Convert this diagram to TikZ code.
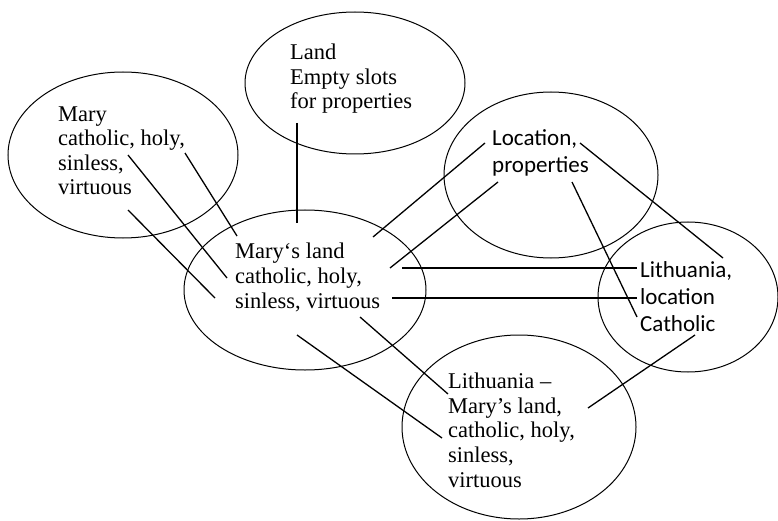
\documentclass[tikz,border=0pt]{standalone}
\usepackage{fontspec}
\setmainfont{Liberation Serif}
\newfontfamily\calfont{Carlito}
\usetikzlibrary{shapes.geometric}
\begin{document}
\begin{tikzpicture}[x=1pt,y=-1pt,
  oval/.style={draw, ellipse, line width=1pt, inner sep=0pt},
  serif/.style={anchor=base west, align=left, inner sep=0pt, font=\fontsize{22.5}{24.6}\selectfont},
  sans/.style={anchor=base west, align=left, inner sep=0pt, font=\calfont\fontsize{23}{27}\selectfont},
  link/.style={line width=1.3pt}]
\useasboundingbox (0,0) rectangle (778,521);
% ellipses
\node[oval, minimum width=230pt, minimum height=166pt] (emary) at (123,155) {};
\node[oval, minimum width=220pt, minimum height=142pt] (eland) at (355,83) {};
\node[oval, minimum width=214pt, minimum height=166pt] (eloc) at (551,175) {};
\node[oval, minimum width=242pt, minimum height=160pt] (emland) at (305,290) {};
\node[oval, minimum width=180pt, minimum height=150pt] (elith) at (688,297) {};
\node[oval, minimum width=234pt, minimum height=184pt] (elml) at (519,427) {};
% texts (base anchor = baseline of the last line)
\node[serif] (tland) at (290,109) {Land\\Empty slots\\for properties};
\node[serif] (tmary) at (58,195) {Mary\\catholic, holy,\\sinless,\\virtuous};
\node[serif] (tmland) at (235,308) {Mary‘s land\\catholic, holy,\\sinless, virtuous};
\node[sans] (tloc) at (492,173) {Location,\\properties};
\node[sans] (tlith) at (640,331) {Lithuania,\\location\\Catholic};
\node[serif] (tlml) at (448,487) {Lithuania –\\Mary’s land,\\catholic, holy,\\sinless,\\virtuous};
% connector end points
\coordinate (c1a) at (128,155); \coordinate (c1b) at (227,278);
\coordinate (c2a) at (185,153); \coordinate (c2b) at (237,236);
\coordinate (c3a) at (128,210); \coordinate (c3b) at (215,298);
\coordinate (c4a) at (297,123); \coordinate (c4b) at (297,223);
\coordinate (c5a) at (485,143); \coordinate (c5b) at (373,237);
\coordinate (c6a) at (498,182); \coordinate (c6b) at (390,268);
\coordinate (c7a) at (572,182); \coordinate (c7b) at (637,317);
\coordinate (c8a) at (580,143); \coordinate (c8b) at (723,258);
\coordinate (c9a) at (402,268); \coordinate (c9b) at (637,268);
\coordinate (c10a) at (392,298); \coordinate (c10b) at (637,298);
\coordinate (c11a) at (360,317); \coordinate (c11b) at (448,394);
\coordinate (c12a) at (297,335); \coordinate (c12b) at (442,438);
\coordinate (c13a) at (695,335); \coordinate (c13b) at (588,408);
% connectors
\draw[link] (c1a) -- (c1b);
\draw[link] (c2a) -- (c2b);
\draw[link] (c3a) -- (c3b);
\draw[link] (c4a) -- (c4b);
\draw[link] (c5a) -- (c5b);
\draw[link] (c6a) -- (c6b);
\draw[link] (c7a) -- (c7b);
\draw[link] (c8a) -- (c8b);
\draw[link] (c9a) -- (c9b);
\draw[link] (c10a) -- (c10b);
\draw[link] (c11a) -- (c11b);
\draw[link] (c12a) -- (c12b);
\draw[link] (c13a) -- (c13b);
\end{tikzpicture}
\end{document}
